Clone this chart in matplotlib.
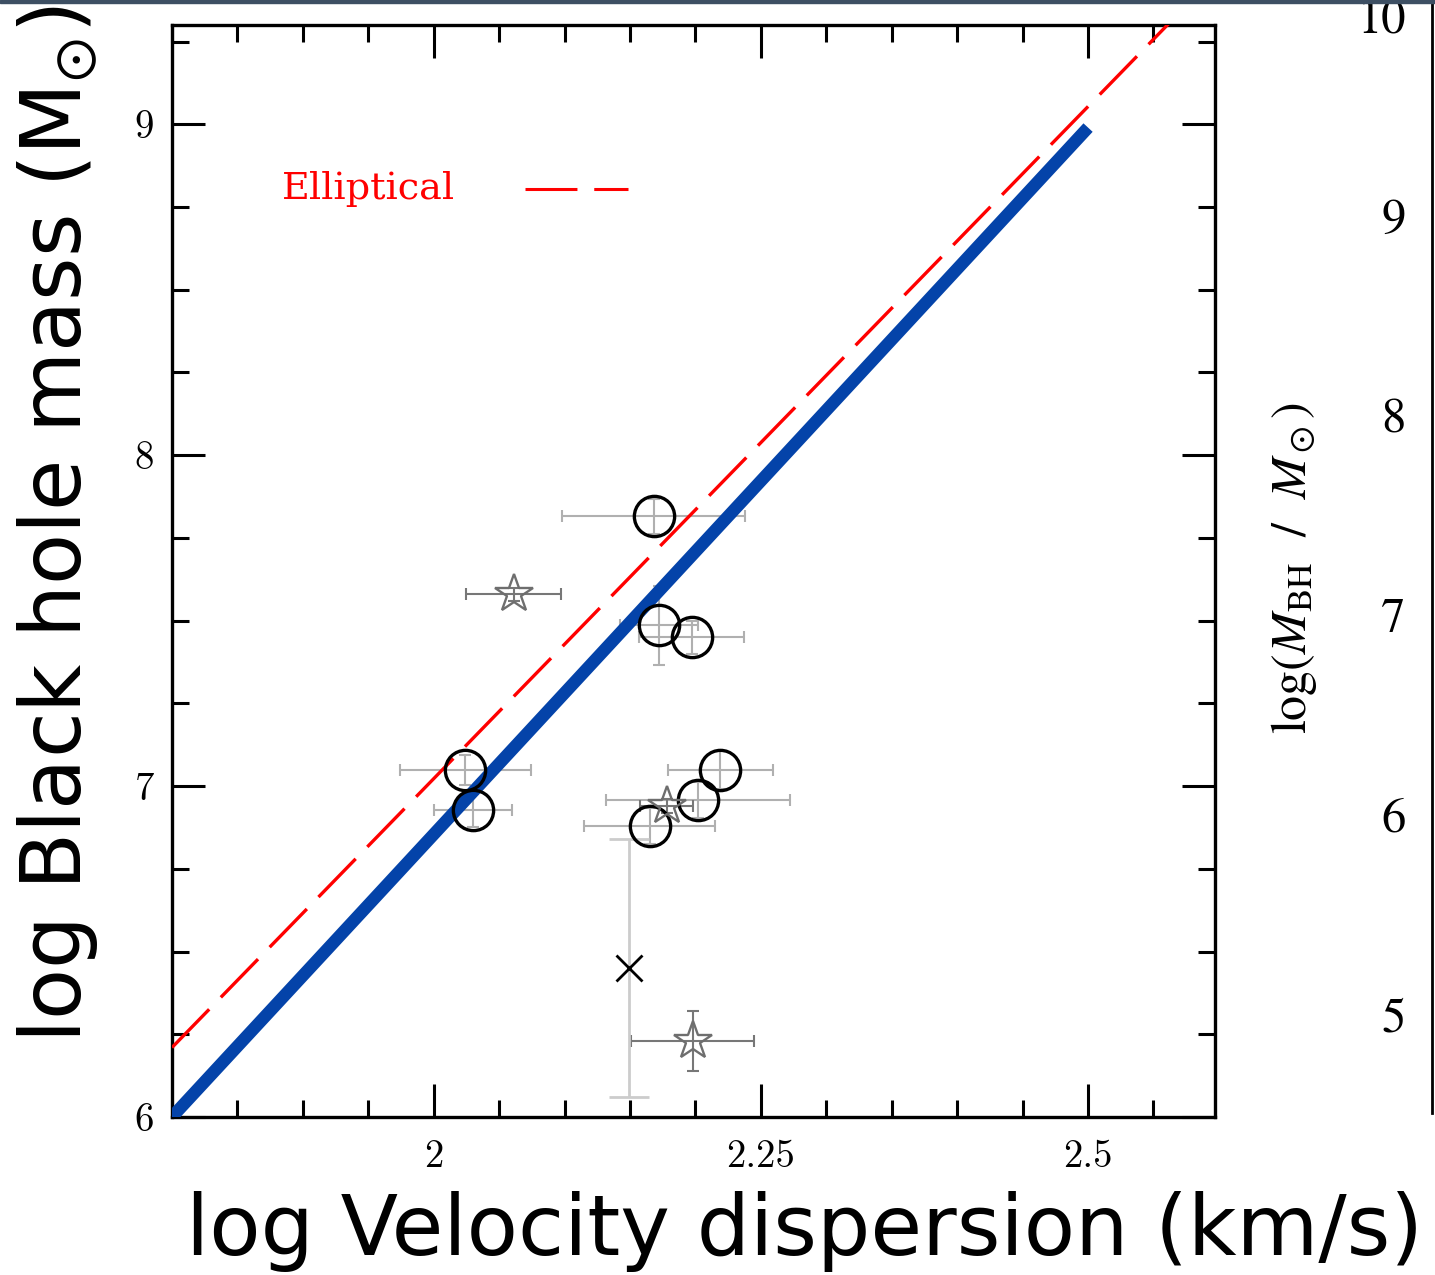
import matplotlib
matplotlib.use('Agg')
import matplotlib.pyplot as plt
from matplotlib.ticker import MultipleLocator
from matplotlib.patches import Rectangle

plt.rcParams['mathtext.fontset'] = 'stix'

# ---- data ----
# open circles (black) with light gray error bars
circ_x = [2.168, 2.172, 2.197, 2.024, 2.030, 2.219, 2.202, 2.165]
circ_y = [7.816, 7.486, 7.450, 7.048, 6.927, 7.048, 6.958, 6.879]
circ_xerr = [0.070, 0.030, 0.040, 0.050, 0.030, 0.040, 0.070, 0.050]
circ_yerr = [0.053, 0.120, 0.050, 0.045, 0.050, 0.057, 0.055, 0.055]

# open stars (gray)
star_x = [2.061, 2.178, 2.198]
star_y = [7.580, 6.940, 6.230]
star_xerr = [0.036, 0.020, 0.047]
star_yerr = [0.020, 0.020, 0.090]

# single cross with a long vertical error bar
cross_x = [2.149]
cross_y = [6.450]
cross_yerr = [0.39]

# relations
ell_x = [1.80, 2.60]
ell_y = [6.21, 9.46]
fit_x = [1.80, 2.50]
fit_y = [6.00, 8.99]

xticks = [2, 2.25, 2.5]
xtick_labels = ['2', '2.25', '2.5']
yticks = [6, 7, 8, 9]
rticks = [5, 6, 7, 8, 9, 10]

################
fig = plt.figure(figsize=(14.35, 12.75), dpi=100)
ax = fig.add_axes([172/1435, 1-1117/1275, 1043/1435, 1092/1275])

# lines
ax.plot(ell_x, ell_y, color='red', lw=2.4, dashes=(16, 5), zorder=4)

# error bars
ax.errorbar(circ_x, circ_y, xerr=circ_xerr, yerr=circ_yerr, fmt='none',
            ecolor='#b0b0b0', elinewidth=1.5, capsize=4.3, capthick=1.5, zorder=2)
ax.errorbar(star_x, star_y, xerr=star_xerr, yerr=star_yerr, fmt='none',
            ecolor='#777777', elinewidth=1.5, capsize=4.3, capthick=1.5, zorder=2)
ax.errorbar(cross_x, cross_y, yerr=cross_yerr, fmt='none',
            ecolor='#cccccc', elinewidth=2, capsize=14.5, capthick=2, zorder=2)

ax.plot(fit_x, fit_y, color='#0443a9', lw=9, solid_capstyle='butt', zorder=3)

# markers
ax.plot(circ_x, circ_y, 'o', ms=29, mfc='none', mec='black', mew=2.4, zorder=5)
ax.plot(star_x, star_y, '*', ms=29, mfc='none', mec='#6e6e6e', mew=1.7, zorder=5)
ax.plot(cross_x, cross_y, 'x', ms=19, mec='black', mew=2, zorder=5)

# legend text + sample
ax.text(0.1055, 0.8407, 'Elliptical', transform=ax.transAxes, color='red',
        fontsize=27.5, family='DejaVu Serif', va='baseline', ha='left')
ax.plot([0.3385, 0.4372], [0.8498, 0.8498], transform=ax.transAxes,
        color='red', lw=2.2, dashes=(17, 5.5), clip_on=False)

# format:
ax.set_xlim(1.8, 2.597)
ax.set_ylim(6.0, 9.3)
ax.set_xticks(xticks)
ax.set_xticklabels(xtick_labels)
ax.set_yticks(yticks)
ax.set_yticklabels([str(t) for t in yticks])
ax.xaxis.set_minor_locator(MultipleLocator(0.05))
ax.yaxis.set_minor_locator(MultipleLocator(0.25))
ax.tick_params(which='both', direction='in', top=True, right=True, width=2.2)
ax.tick_params(which='major', length=24)
ax.tick_params(which='minor', length=12)
ax.tick_params(axis='y', pad=13)
ax.tick_params(axis='x', pad=16)
for lab in ax.get_xticklabels() + ax.get_yticklabels():
    lab.set_family('cmr10')
    lab.set_fontsize(28)
for sp in ax.spines.values():
    sp.set_linewidth(2.4)

# big axis labels
fig.text(804/1435, 1-1232/1275, 'log Velocity dispersion (km/s)', fontsize=60.5,
         family='DejaVu Sans', ha='center', va='center')
fig.text(58/1435, 1-524/1275, r'log Black hole mass (M$_{\odot}$)', fontsize=60,
         family='DejaVu Sans', ha='center', va='center', rotation=90)

# right-hand axis
ax2 = fig.add_axes([1432/1435, 1-1113/1275, 0.0005, 1113/1275])
ax2.set_facecolor('none')
ax2.set_ylim(4.504, 10.083)
ax2.set_yticks(rticks)
ax2.set_yticklabels([str(t) for t in rticks], family='STIXGeneral', fontsize=35)
ax2.set_xticks([])
ax2.tick_params(axis='y', length=0, pad=19)
for s in ['right', 'top', 'bottom']:
    ax2.spines[s].set_visible(False)
ax2.spines['left'].set_linewidth(2)
fig.text(1294/1435, 1-568/1275, r'$\log(M_{\rm BH}\ \ /\ \ M_\odot)$', fontsize=36,
         ha='center', va='center', rotation=90)

# thin dark strip along the top edge
fig.patches.append(Rectangle((0, 1-3/1275), 1, 3/1275, transform=fig.transFigure,
                             color='#3d4f63', zorder=10))

fig.savefig('out.png', dpi=100)
